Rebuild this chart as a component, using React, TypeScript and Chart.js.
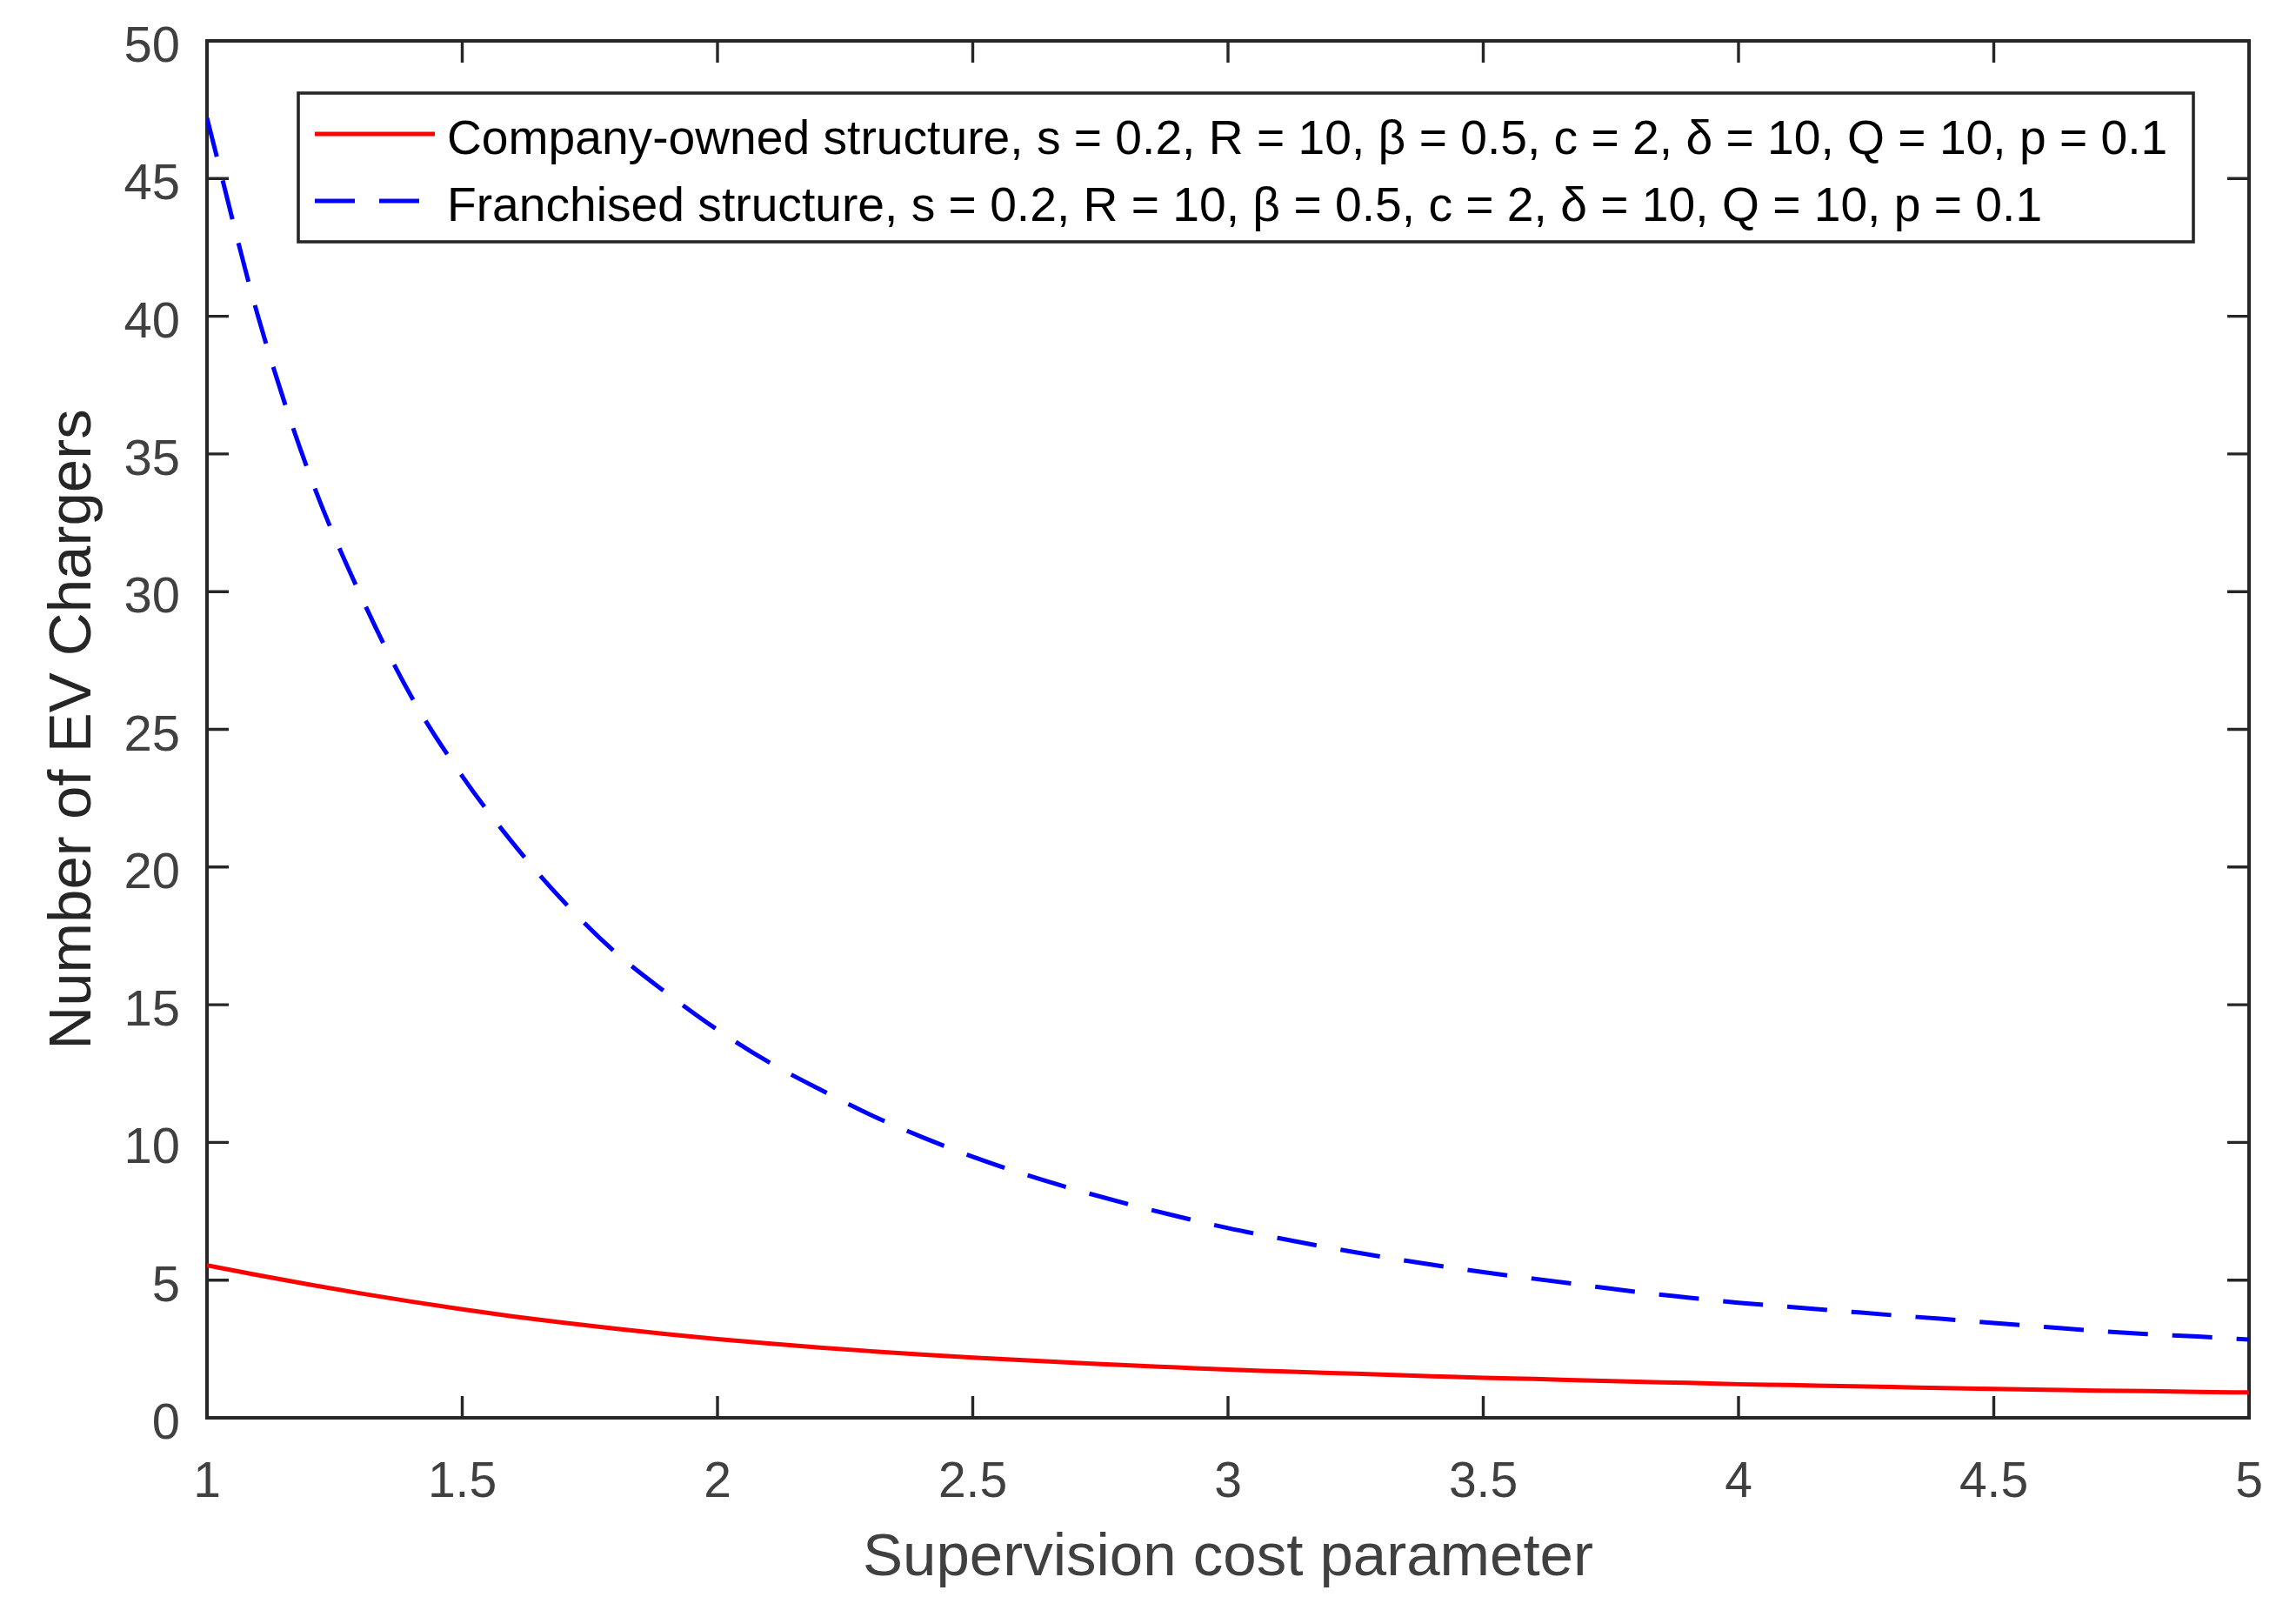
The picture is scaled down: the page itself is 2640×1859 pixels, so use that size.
import React, { useEffect, useRef } from "react"
import { Chart, registerables } from "chart.js"

Chart.register(...registerables)

// supervision cost parameter (x)
const supervisionCost = [
  1.0, 1.1, 1.2, 1.3, 1.4, 1.5, 1.6, 1.7, 1.8, 1.9, 2.0, 2.1, 2.2, 2.3, 2.4,
  2.5, 2.6, 2.7, 2.8, 2.9, 3.0, 3.1, 3.2, 3.3, 3.4, 3.5, 3.6, 3.7, 3.8, 3.9,
  4.0, 4.1, 4.2, 4.3, 4.4, 4.5, 4.6, 4.7, 4.8, 4.9, 5.0,
]

// number of EV chargers
const companyOwned = [
  5.54, 5.18, 4.84, 4.52, 4.22, 3.94, 3.68, 3.45, 3.24, 3.04, 2.86, 2.7, 2.55,
  2.42, 2.3, 2.19, 2.09, 2.0, 1.91, 1.83, 1.75, 1.69, 1.63, 1.57, 1.51, 1.45,
  1.41, 1.36, 1.31, 1.27, 1.22, 1.19, 1.15, 1.12, 1.08, 1.05, 1.02, 0.99, 0.97,
  0.94, 0.92,
]

const franchised = [
  47.2, 40.0, 34.3, 29.9, 26.2, 23.3, 20.85, 18.72, 16.9, 15.43, 14.09, 12.92,
  11.93, 11.0, 10.2, 9.48, 8.85, 8.29, 7.78, 7.32, 6.89, 6.52, 6.17, 5.85, 5.56,
  5.29, 5.05, 4.81, 4.57, 4.37, 4.18, 4.03, 3.88, 3.73, 3.59, 3.44, 3.3, 3.16,
  3.04, 2.95, 2.84,
]

const xTickValues = [1, 1.5, 2, 2.5, 3, 3.5, 4, 4.5, 5]
const yTickValues = [0, 5, 10, 15, 20, 25, 30, 35, 40, 45, 50]

const seriesLabels = [
  "Company-owned structure, s = 0.2, R = 10, β = 0.5, c = 2, δ = 10, Q = 10, p = 0.1",
  "Franchised structure, s = 0.2, R = 10, β = 0.5, c = 2, δ = 10, Q = 10, p = 0.1",
]

const FONT = "'Liberation Sans', Arial, Helvetica, sans-serif"
const AXIS_COLOR = "#262626"

const toPoints = (ys: number[]) =>
  ys.map((y, i) => ({ x: supervisionCost[i], y }))

// no label overhang padding, so the plot box lands where the layout says
const noOverhang = (scale: any) => {
  scale.paddingTop = 0
  scale.paddingBottom = 0
  scale.paddingLeft = 0
  scale.paddingRight = 0
}

// matlab-ish box with inward ticks on all four sides
const axesBox = {
  id: "axesBox",
  beforeDatasetsDraw(chart: any) {
    const { ctx, chartArea } = chart
    const { left, right, top, bottom } = chartArea
    const xs = chart.scales.x
    const ys = chart.scales.y
    const tick = 25
    ctx.save()
    ctx.strokeStyle = AXIS_COLOR
    ctx.lineWidth = 3.4
    ctx.beginPath()
    xs.ticks.forEach((t: any) => {
      const px = xs.getPixelForValue(t.value)
      ctx.moveTo(px, bottom)
      ctx.lineTo(px, bottom - tick)
      ctx.moveTo(px, top)
      ctx.lineTo(px, top + tick)
    })
    ys.ticks.forEach((t: any) => {
      const py = ys.getPixelForValue(t.value)
      ctx.moveTo(left, py)
      ctx.lineTo(left + tick, py)
      ctx.moveTo(right, py)
      ctx.lineTo(right - tick, py)
    })
    ctx.stroke()
    ctx.lineWidth = 4
    ctx.strokeRect(left, top, right - left, bottom - top)
    ctx.restore()
  },
}

const boxLegend = {
  id: "boxLegend",
  afterDatasetsDraw(chart: any) {
    const { ctx, chartArea } = chart
    const bx = chartArea.left + 105
    const by = chartArea.top + 60
    const bw = 2179
    const bh = 171
    ctx.save()
    ctx.fillStyle = "#ffffff"
    ctx.fillRect(bx, by, bw, bh)
    ctx.strokeStyle = AXIS_COLOR
    ctx.lineWidth = 3.6
    ctx.strokeRect(bx, by, bw, bh)
    chart.data.datasets.forEach((ds: any, i: number) => {
      const y = by + 47 + i * 77
      ctx.beginPath()
      ctx.setLineDash(ds.borderDash || [])
      ctx.strokeStyle = ds.borderColor
      ctx.lineWidth = ds.borderWidth
      ctx.moveTo(bx + 19, y)
      ctx.lineTo(bx + 157, y)
      ctx.stroke()
      ctx.setLineDash([])
      ctx.fillStyle = "#000000"
      ctx.font = `55.2px ${FONT}`
      ctx.textBaseline = "alphabetic"
      ctx.textAlign = "left"
      ctx.fillText(ds.label, bx + 171, y + 23)
    })
    ctx.restore()
  },
}

const App: React.FC = () => {
  const chartRef = useRef<HTMLCanvasElement | null>(null)

  useEffect(() => {
    document.body.style.margin = "0"
    if (!chartRef.current) return
    const ctx = chartRef.current.getContext("2d")
    if (!ctx) return

    const chartInstance = new Chart(ctx, {
      type: "line",
      data: {
        datasets: [
          {
            label: seriesLabels[0],
            data: toPoints(companyOwned),
            borderColor: "#ff0000",
            borderWidth: 5,
            pointRadius: 0,
            cubicInterpolationMode: "monotone",
          },
          {
            label: seriesLabels[1],
            data: toPoints(franchised),
            borderColor: "#0000ff",
            borderWidth: 5,
            borderDash: [46, 28],
            pointRadius: 0,
            cubicInterpolationMode: "monotone",
          },
        ],
      },
      plugins: [axesBox, boxLegend],
      options: {
        animation: false,
        responsive: false,
        devicePixelRatio: 1,
        layout: {
          padding: { left: 0, right: 54, top: 47, bottom: 0 },
        },
        plugins: {
          legend: { display: false },
          tooltip: { enabled: false },
        },
        scales: {
          x: {
            type: "linear",
            min: 1,
            max: 5,
            afterBuildTicks: (scale: any) => {
              scale.ticks = xTickValues.map((value) => ({ value }))
            },
            afterFit: (scale: any) => {
              scale.height = 229
              noOverhang(scale)
            },
            grid: { display: false, drawTicks: false },
            border: { display: false },
            ticks: {
              color: "#404040",
              font: { family: FONT, size: 57 },
              padding: 41,
              maxRotation: 0,
              callback: (value: any) => String(value),
            },
            title: {
              display: true,
              text: "Supervision cost parameter",
              color: "#404040",
              font: { family: FONT, size: 69 },
              padding: { top: 0, bottom: 26 },
            },
          },
          y: {
            type: "linear",
            min: 0,
            max: 50,
            afterBuildTicks: (scale: any) => {
              scale.ticks = yTickValues.map((value) => ({ value }))
            },
            afterFit: (scale: any) => {
              scale.width = 238
              noOverhang(scale)
            },
            grid: { display: false, drawTicks: false },
            border: { display: false },
            ticks: {
              color: "#404040",
              font: { family: FONT, size: 58 },
              padding: 31,
              labelOffset: 8,
              callback: (value: any) => String(value),
            },
            title: {
              display: true,
              text: "Number of EV Chargers",
              color: "#262626",
              font: { family: FONT, size: 69 },
              padding: { top: 44, bottom: 0 },
            },
          },
        },
      },
    })

    return () => {
      chartInstance.destroy()
    }
  }, [])

  return (
    <div style={{ width: 2640, height: 1859, background: "#ffffff" }}>
      <canvas
        ref={chartRef}
        width={2640}
        height={1859}
        style={{ display: "block", width: 2640, height: 1859 }}
      />
    </div>
  )
}

export default App
